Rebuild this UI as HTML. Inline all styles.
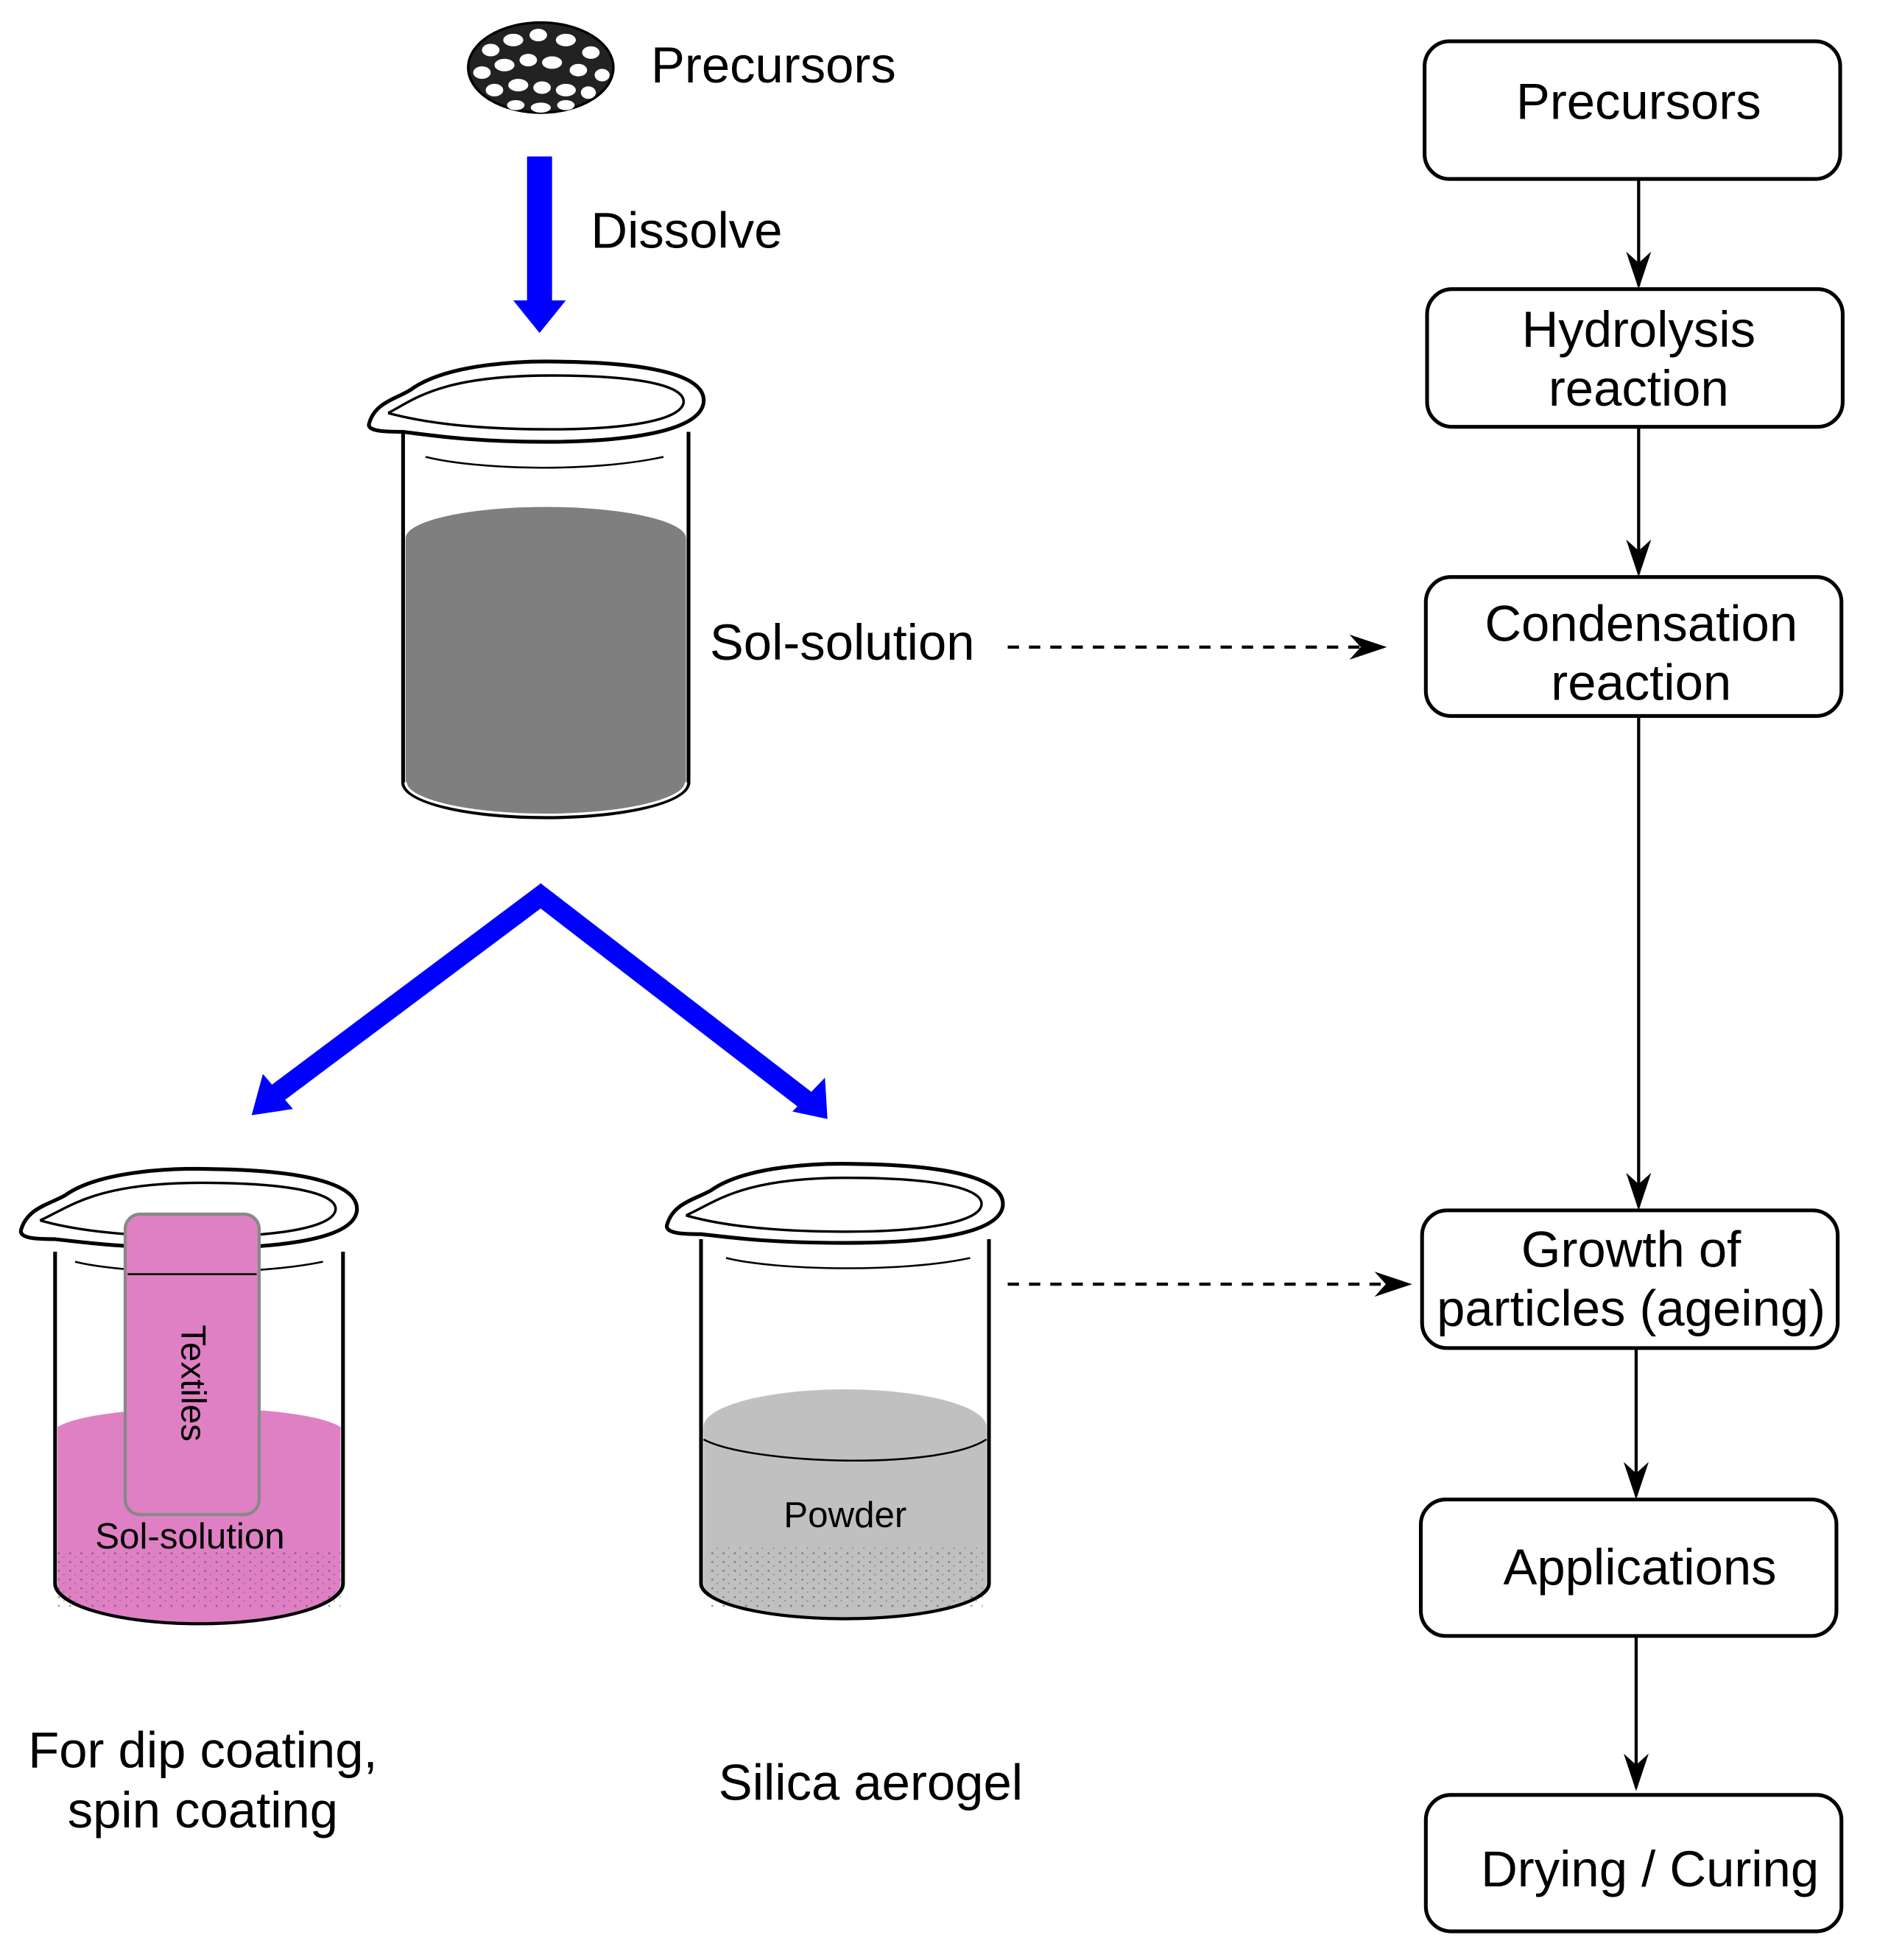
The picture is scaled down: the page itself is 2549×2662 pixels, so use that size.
<!DOCTYPE html>
<html><head><meta charset="utf-8"><style>html,body{margin:0;padding:0;background:#fff}svg{display:block}</style></head><body>
<svg width="2549" height="2662" viewBox="0 0 1499.4 1565.9" preserveAspectRatio="none" xmlns="http://www.w3.org/2000/svg" font-family="Liberation Sans, sans-serif">
<defs>
<marker id="ah2" viewBox="0 0 10 10" refX="9" refY="5" markerWidth="30" markerHeight="20" orient="auto" markerUnits="userSpaceOnUse" preserveAspectRatio="none"><path d="M0,0 L10,5 L0,10 L3,5 Z" fill="#000"/></marker>
<pattern id="dots" width="9" height="7" patternUnits="userSpaceOnUse"><circle cx="2" cy="2" r="0.8" fill="#333"/><circle cx="6" cy="5" r="0.6" fill="#555"/></pattern>
</defs>
<!-- precursor blob -->
<g stroke="#000" stroke-width="2" fill="#fff">
<ellipse cx="432" cy="54" rx="58" ry="36" fill="#222"/>
<g fill="#fff" stroke="none">
<ellipse cx="392" cy="40" rx="7" ry="5"/><ellipse cx="410" cy="32" rx="8" ry="5"/><ellipse cx="430" cy="28" rx="7" ry="5"/><ellipse cx="452" cy="32" rx="8" ry="5"/><ellipse cx="472" cy="42" rx="7" ry="5"/>
<ellipse cx="385" cy="58" rx="7" ry="5"/><ellipse cx="403" cy="52" rx="8" ry="5"/><ellipse cx="422" cy="48" rx="7" ry="5"/><ellipse cx="441" cy="50" rx="8" ry="5"/><ellipse cx="462" cy="56" rx="7" ry="5"/><ellipse cx="481" cy="60" rx="6" ry="5"/>
<ellipse cx="395" cy="72" rx="7" ry="5"/><ellipse cx="414" cy="68" rx="8" ry="5"/><ellipse cx="433" cy="70" rx="7" ry="5"/><ellipse cx="452" cy="72" rx="8" ry="5"/><ellipse cx="470" cy="74" rx="6" ry="5"/>
<ellipse cx="412" cy="84" rx="7" ry="4"/><ellipse cx="432" cy="86" rx="8" ry="4"/><ellipse cx="452" cy="84" rx="7" ry="4"/>
</g></g>
<g font-size="40.5" fill="#000">
<text x="520" y="66">Precursors</text>
<text x="472" y="198">Dissolve</text>
<text x="567" y="527">Sol-solution</text>
<text x="162" y="1412" text-anchor="middle">For dip coating,</text>
<text x="162" y="1460" text-anchor="middle">spin coating</text>
<text x="574" y="1438">Silica aerogel</text>
</g>
<!-- blue arrows -->
<rect x="421" y="125" width="20" height="118" fill="#0000ff"/>
<polygon points="410,240 452,240 431,266" fill="#0000ff"/>
<path d="M437,712 L218,876" stroke="#0000ff" stroke-width="16" fill="none"/>
<path d="M427,712 L645,880" stroke="#0000ff" stroke-width="16" fill="none"/>
<polygon points="201,891 210,858 234,886" fill="#0000ff"/>
<polygon points="661,894 659,861 633,888" fill="#0000ff"/>
<!-- beaker 1 -->
<g stroke="#000" stroke-width="3">
<path d="M322,345 L322,625 A114,28 0 0 0 550,625 L550,345" fill="#fff"/>
<path d="M324,430 A112,25 0 0 1 548,430 L548,625 A112,26 0 0 1 324,625 Z" fill="#7f7f7f" stroke="none"/>
<path d="M324,625 A112,26 0 0 0 548,625" fill="none" stroke="#fff" stroke-width="2"/>
<path d="M295,338 C300,320 320,318 330,310 C360,290 420,288 450,289 C520,290 565,300 562,322 C558,345 500,353 435,353 C380,353 345,348 322,345 C310,345 292,345 295,338 Z" fill="#fff"/>
<path d="M310,330 C330,320 350,300 440,300 C520,300 548,310 546,322 C543,336 500,343 440,343 C380,343 340,338 310,330" fill="none" stroke-width="2"/>
<path d="M340,365 C380,375 470,378 530,365" fill="none" stroke-width="1.5"/>
</g>
<!-- beaker 2 -->
<g stroke="#000" stroke-width="3">
<path d="M44,1000 L44,1265 A115,32 0 0 0 274,1265 L274,1000" fill="#fff"/>
<path d="M46,1140 C80,1120 240,1120 272,1140 L272,1265 A113,31 0 0 1 46,1265 Z" fill="#df80c4" stroke="none"/>
<rect x="46" y="1240" width="226" height="45" fill="url(#dots)" stroke="none" opacity="0.5"/>
<path d="M17,982 C22,965 40,962 52,955 C80,935 140,933 170,934 C240,935 288,945 285,968 C281,990 225,997 160,997 C100,997 70,993 44,990 C32,990 14,990 17,982 Z" fill="#fff"/>
<path d="M32,975 C55,965 75,945 160,945 C240,945 270,955 268,967 C265,981 220,988 160,988 C100,988 60,983 32,975" fill="none" stroke-width="2"/>
<path d="M60,1008 C100,1018 200,1020 258,1008" fill="none" stroke-width="1.5"/>
<rect x="100" y="970" width="107" height="240" rx="12" fill="#df80c4" stroke="#888" stroke-width="2.5"/>
<path d="M102,1018 L205,1018" stroke="#000" stroke-width="1.5"/>
</g>
<text x="0" y="0" font-size="28" transform="translate(145,1105) rotate(90)" text-anchor="middle">Textiles</text>
<text x="76" y="1237" font-size="29">Sol-solution</text>
<!-- beaker 3 -->
<g stroke="#000" stroke-width="3">
<path d="M560,990 L560,1265 A115,28 0 0 0 790,1265 L790,990" fill="#fff"/>
<path d="M562,1140 A113,30 0 0 1 788,1140 L788,1265 A113,27 0 0 1 562,1265 Z" fill="#c0c0c0" stroke="none"/>
<path d="M562,1150 C600,1170 750,1175 788,1150" fill="none" stroke-width="1.5"/>
<rect x="565" y="1235" width="220" height="50" fill="url(#dots)" stroke="none" opacity="0.5"/>
<path d="M533,978 C538,961 556,958 568,951 C596,931 656,929 686,930 C756,931 804,941 801,964 C797,986 741,993 676,993 C616,993 586,989 560,986 C548,986 530,986 533,978 Z" fill="#fff"/>
<path d="M548,971 C571,961 591,941 676,941 C756,941 786,951 784,963 C781,977 736,984 676,984 C616,984 576,979 548,971" fill="none" stroke-width="2"/>
<path d="M580,1005 C620,1015 720,1017 775,1005" fill="none" stroke-width="1.5"/>
</g>
<text x="626" y="1220" font-size="29">Powder</text>
<!-- dashed -->
<path d="M805,517 L1105,517" stroke="#000" stroke-width="2.5" stroke-dasharray="9,8" fill="none" marker-end="url(#ah2)"/>
<path d="M805,1026 L1125,1026" stroke="#000" stroke-width="2.5" stroke-dasharray="9,8" fill="none" marker-end="url(#ah2)"/>
<!-- flow boxes -->
<g fill="#fff" stroke="#000" stroke-width="3">
<rect x="1138" y="33" width="332" height="110" rx="20"/>
<rect x="1140" y="231" width="332" height="110" rx="20"/>
<rect x="1139" y="461" width="332" height="111" rx="20"/>
<rect x="1136" y="967" width="332" height="110" rx="20"/>
<rect x="1135" y="1198" width="332" height="109" rx="20"/>
<rect x="1139" y="1434" width="332" height="109" rx="20"/>
</g>
<g stroke="#000" stroke-width="2.5" fill="none">
<path d="M1309,143 L1309,228" marker-end="url(#ah2)"/>
<path d="M1309,341 L1309,458" marker-end="url(#ah2)"/>
<path d="M1309,572 L1309,964" marker-end="url(#ah2)"/>
<path d="M1307,1077 L1307,1195" marker-end="url(#ah2)"/>
<path d="M1307,1307 L1307,1428" marker-end="url(#ah2)"/>
</g>
<g font-size="40.5" text-anchor="middle" fill="#000">
<text x="1309" y="95">Precursors</text>
<text x="1309" y="277">Hydrolysis</text>
<text x="1309" y="324">reaction</text>
<text x="1311" y="512">Condensation</text>
<text x="1311" y="559">reaction</text>
<text x="1303" y="1012">Growth of</text>
<text x="1303" y="1059">particles (ageing)</text>
<text x="1310" y="1266">Applications</text>
<text x="1318" y="1507">Drying / Curing</text>
</g>
</svg>
</body></html>
